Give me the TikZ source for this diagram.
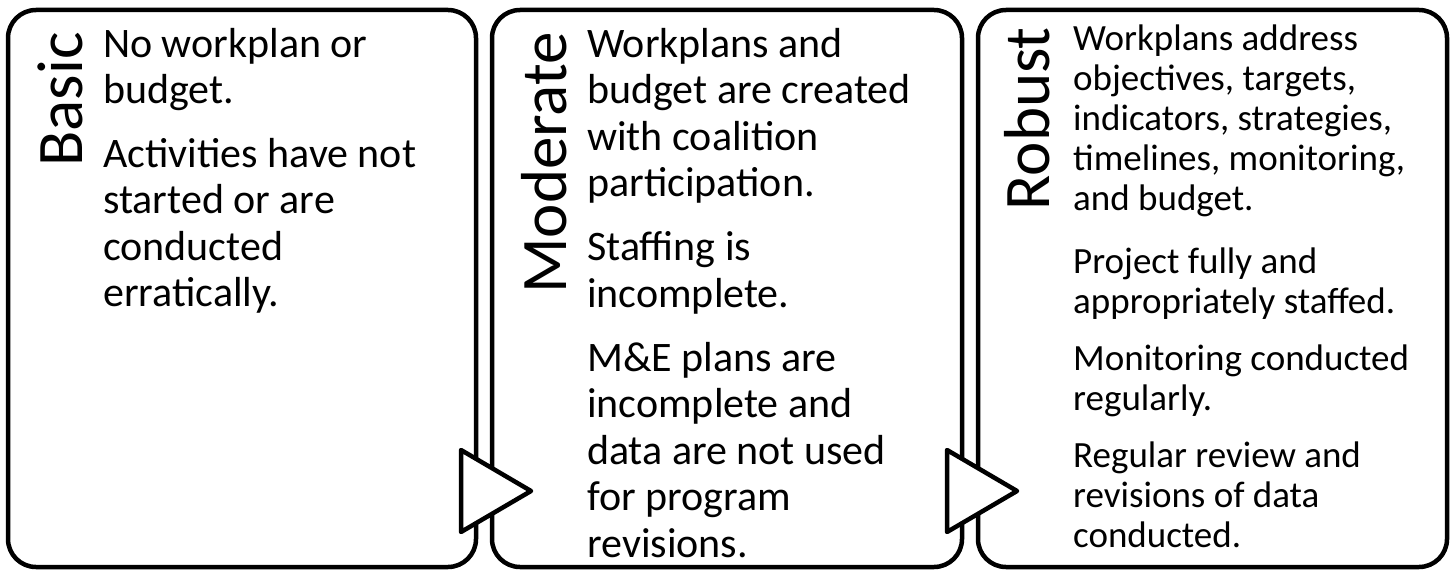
\documentclass[tikz,border=0pt]{standalone}
\usepackage{fontspec}
\setmainfont{Carlito}
\usepackage{tikz}
\usetikzlibrary{positioning}

\tikzset{
  panel/.style={line width=4.5pt, rounded corners=28pt},
  pointer/.style={line width=4.5pt, line join=round, fill=white},
  title/.style={rotate=90, anchor=base east, inner sep=0pt, font=\fontsize{65}{78}\selectfont},
  bodytext/.style={anchor=north west, inner sep=0pt, align=left, font=\fontsize{42}{46.5}\selectfont},
  smalltext/.style={anchor=north west, inner sep=0pt, align=left, font=\fontsize{37}{40}\selectfont},
}
\newcommand{\firstline}[1]{\rule{0pt}{#1}}

\begin{document}
\begin{tikzpicture}[x=1pt, y=1pt]
  \useasboundingbox (0,0) rectangle (1455,574);

  % the three panels
  \draw[panel] (8,7) rectangle (476,564);
  \draw[panel] (492,7) rectangle (962,564);
  \draw[panel] (978,7) rectangle (1447,564);

  % pointers from one panel to the next
  \draw[pointer] (461,124) -- (531,83) -- (461,42) -- cycle;
  \draw[pointer] (947,124) -- (1017,83) -- (947,42) -- cycle;

  \def\shift{0}
  \node[title] (basic) at (82+\shift,542) {Basic};
  \node[bodytext] (basic1) at (103+\shift,553) {\firstline{36pt}No workplan or\\budget.};
  \node[bodytext] (basic2) at (103+\shift,443) {\firstline{36pt}Activities have not\\started or are\\conducted\\erratically.};

  \def\shift{484}
  \node[title] (moderate) at (82+\shift,542) {Moderate};
  \node[bodytext] (moderate1) at (103+\shift,553) {\firstline{36pt}Workplans and\\budget are created\\with coalition\\participation.};
  \node[bodytext] (moderate2) at (103+\shift,349.5) {\firstline{36pt}Staffing is\\incomplete.};
  \node[bodytext] (moderate3) at (103+\shift,239) {\firstline{36pt}M\&E plans are\\incomplete and\\data are not used\\for program\\revisions.};

  \def\shift{970}
  \node[title] (robust) at (79+\shift,547) {Robust};
  \node[smalltext] (robust1) at (103+\shift,556) {\firstline{32pt}Workplans address\\objectives, targets,\\indicators, strategies,\\timelines, monitoring,\\and budget.};
  \node[smalltext] (robust2) at (103+\shift,333) {\firstline{32pt}Project fully and\\appropriately staffed.};
  \node[smalltext] (robust3) at (103+\shift,236) {\firstline{32pt}Monitoring conducted\\regularly.};
  \node[smalltext] (robust4) at (103+\shift,139) {\firstline{32pt}Regular review and\\revisions of data\\conducted.};
\end{tikzpicture}
\end{document}
